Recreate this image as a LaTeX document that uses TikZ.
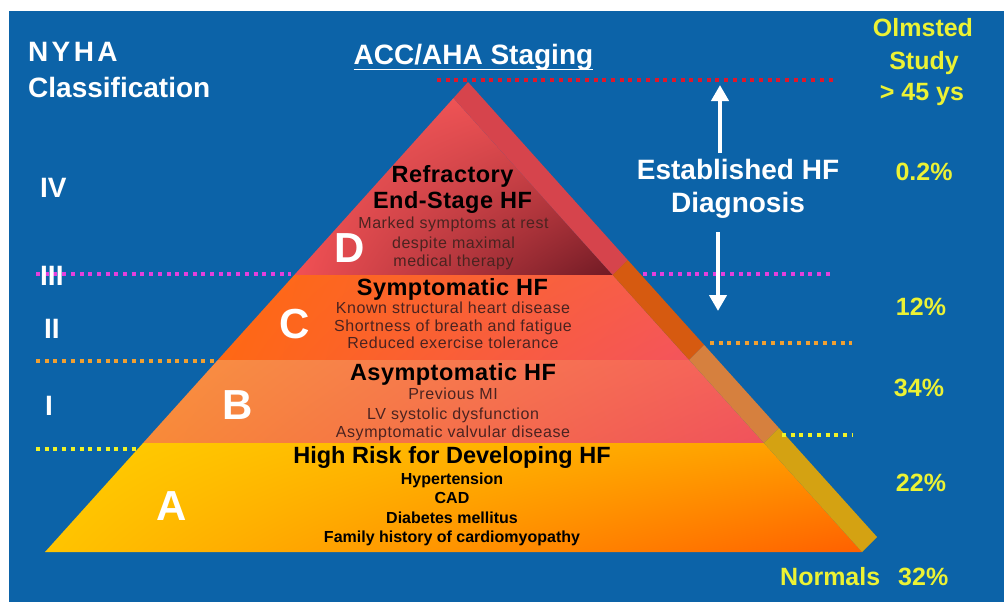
\documentclass[tikz,border=0pt]{standalone}
\usepackage{fontspec}
\setmainfont{Liberation Sans}
\newfontfamily\descfont[LetterSpace=3.5]{Liberation Sans}
\newfontfamily\ttlfont[LetterSpace=2]{Liberation Sans}
\newfontfamily\nyhafont[LetterSpace=12]{Liberation Sans}
\usetikzlibrary{arrows.meta,shadings}
\definecolor{bgblue}{RGB}{12,99,168}
\definecolor{ylw}{RGB}{236,242,52}
\definecolor{desccol}{RGB}{75,35,32}
\definecolor{dotred}{RGB}{222,24,44}
\definecolor{dotmag}{RGB}{228,64,220}
\definecolor{dotorg}{RGB}{240,160,50}
\definecolor{dotylw}{RGB}{240,242,40}
\definecolor{stripD}{RGB}{214,68,76}
\definecolor{stripC}{RGB}{214,90,16}
\definecolor{stripB}{RGB}{214,128,62}
\definecolor{stripA}{RGB}{212,162,18}
\definecolor{dUL}{RGB}{242,90,90}
\definecolor{dUR}{RGB}{234,76,80}
\definecolor{dLL}{RGB}{242,80,84}
\definecolor{dLR}{RGB}{112,26,36}
\definecolor{cUL}{RGB}{255,106,16}
\definecolor{cUR}{RGB}{246,92,80}
\definecolor{cLL}{RGB}{255,104,20}
\definecolor{cLR}{RGB}{244,84,92}
\definecolor{bUL}{RGB}{248,146,64}
\definecolor{bUR}{RGB}{245,96,92}
\definecolor{bLL}{RGB}{248,138,56}
\definecolor{bLR}{RGB}{240,82,92}
\definecolor{aUL}{RGB}{255,206,0}
\definecolor{aUR}{RGB}{255,156,0}
\definecolor{aLL}{RGB}{255,196,0}
\definecolor{aLR}{RGB}{255,96,0}
\tikzset{
  hdr/.style={font=\fontsize{28}{28}\selectfont\bfseries, text=white, inner sep=0pt},
  pct/.style={font=\fontsize{25}{25}\selectfont\bfseries, text=ylw, inner sep=0pt, anchor=base},
  ttl/.style={font=\ttlfont\fontsize{23.5}{23.5}\selectfont\bfseries, text=black, inner sep=0pt, anchor=base},
  ttlA/.style={font=\fontsize{23.5}{23.5}\selectfont\bfseries, text=black, inner sep=0pt, anchor=base},
  dsc/.style={font=\descfont\fontsize{16}{16}\selectfont, text=desccol, inner sep=0pt, anchor=base},
  dscb/.style={font=\fontsize{16}{16}\selectfont\bfseries, text=black, inner sep=0pt, anchor=base},
  stage/.style={font=\fontsize{42}{42}\selectfont\bfseries, text=white, inner sep=0pt, anchor=base west},
  dotline/.style={line width=4pt, dash pattern=on 4pt off 4.7pt},
  bigarrow/.style={draw=white, line width=4.5pt, -{Triangle[width=17pt,length=16pt]}}
}
\begin{document}
\begin{tikzpicture}[x=1pt,y=-1pt]
\useasboundingbox (0,0) rectangle (1004,602);
\fill[white] (0,0) rectangle (1004,602);
\fill[bgblue] (9,11) rectangle (1004,602);

% pyramid geometry
\coordinate (O) at (468,82);
\coordinate (F) at (453.5,98.1);
\coordinate (L1) at (294.3,275);
\coordinate (I1) at (612.7,275);
\coordinate (U1) at (627.7,260);
\coordinate (L2) at (217.8,360);
\coordinate (I2) at (689.2,360);
\coordinate (U2) at (704.2,345);
\coordinate (L3) at (143.1,443);
\coordinate (I3) at (763.9,443);
\coordinate (U3) at (778.9,428);
\coordinate (L4) at (45,552);
\coordinate (I4) at (862,552);
\coordinate (U4) at (877,537);

% faces
\shade[upper left=dUL, upper right=dUR, lower left=dLL, lower right=dLR]
  (F) -- (L1) -- (I1) -- cycle;
\shade[upper left=cUL, upper right=cUR, lower left=cLL, lower right=cLR]
  (L1) -- (L2) -- (I2) -- (I1) -- cycle;
\shade[upper left=bUL, upper right=bUR, lower left=bLL, lower right=bLR]
  (L2) -- (L3) -- (I3) -- (I2) -- cycle;
\shade[upper left=aUL, upper right=aUR, lower left=aLL, lower right=aLR]
  (L3) -- (L4) -- (I4) -- (I3) -- cycle;
% side strip
\fill[stripD] (O) -- (F) -- (I1) -- (U1) -- cycle;
\fill[stripC] (I1) -- (I2) -- (U2) -- (U1) -- cycle;
\fill[stripB] (I2) -- (I3) -- (U3) -- (U2) -- cycle;
\fill[stripA] (I3) -- (I4) -- (U4) -- (U3) -- cycle;

% dotted level lines
\coordinate (redL) at (437,80);  \coordinate (redR) at (833,80);
\coordinate (magL1) at (36,274); \coordinate (magL2) at (291,274);
\coordinate (magR1) at (643,274); \coordinate (magR2) at (833,274);
\coordinate (orgL1) at (36,361); \coordinate (orgL2) at (215,361);
\coordinate (orgR1) at (710,343); \coordinate (orgR2) at (852,343);
\coordinate (ylwL1) at (36,449); \coordinate (ylwL2) at (140,449);
\coordinate (ylwR1) at (782,435); \coordinate (ylwR2) at (852,435);
\draw[dotline, dotred] (redL) -- (redR);
\draw[dotline, dotmag] (magL1) -- (magL2);
\draw[dotline, dotmag] (magR1) -- (magR2);
\draw[dotline, dotorg] (orgL1) -- (orgL2);
\draw[dotline, dotorg] (orgR1) -- (orgR2);
\draw[dotline, dotylw] (ylwL1) -- (ylwL2);
\draw[dotline, dotylw] (ylwR1) -- (ylwR2);

% headers
\node[hdr, anchor=base west, font=\nyhafont\fontsize{28}{28}\selectfont\bfseries] (nyha) at (28,62) {NYHA};
\node[hdr, anchor=base west] (cls) at (28,97) {Classification};
\node[hdr, anchor=base] (acc) at (473.5,65) {ACC/AHA Staging};
\draw[white, line width=1.8pt] ([yshift=-4.5pt]acc.base west) -- ([yshift=-4.5pt]acc.base east);
\node[hdr, anchor=base] (est1) at (738,179) {Established HF};
\node[hdr, anchor=base] (est2) at (738,212) {Diagnosis};

% arrows
\coordinate (upS) at (720,153); \coordinate (upT) at (720,85);
\coordinate (dnS) at (718,232); \coordinate (dnT) at (718,311);
\draw[bigarrow] (upS) -- (upT);
\draw[bigarrow] (dnS) -- (dnT);

% NYHA classes
\node[hdr, anchor=base west] (r4) at (40,197) {IV};
\node[hdr, anchor=base west] (r3) at (40,285) {III};
\node[hdr, anchor=base west] (r2) at (44,338) {II};
\node[hdr, anchor=base west] (r1) at (45,415) {I};

% Olmsted
\node[pct] (olm1) at (923,37) {Olmsted};
\node[pct] (olm2) at (924,70) {Study};
\node[pct] (olm3) at (922,100) {> 45 ys};
\node[pct] (p4) at (924,180) {0.2\%};
\node[pct] (p3) at (921,315) {12\%};
\node[pct] (p2) at (919,396) {34\%};
\node[pct] (p1) at (921,491) {22\%};
\node[pct, anchor=base west] (pn) at (780,585) {Normals\hspace{18pt}32\%};

% stage letters
\node[stage] (sD) at (334,262) {D};
\node[stage] (sC) at (279,338) {C};
\node[stage] (sB) at (222,419) {B};
\node[stage] (sA) at (156,520) {A};

% stage D
\node[ttl] (d1) at (452.5,182) {Refractory};
\node[ttl] (d2) at (452.5,208) {End-Stage HF};
\node[dsc] (d3) at (453.5,228) {Marked symptoms at rest};
\node[dsc] (d4) at (453.5,248) {despite maximal};
\node[dsc] (d5) at (453.5,266) {medical therapy};
% stage C
\node[ttl] (c1) at (452.5,295) {Symptomatic HF};
\node[dsc] (c2) at (453,313) {Known structural heart disease};
\node[dsc] (c3) at (453,331) {Shortness of breath and fatigue};
\node[dsc] (c4) at (453,348) {Reduced exercise tolerance};
% stage B
\node[ttl] (b1) at (453,380) {Asymptomatic HF};
\node[dsc] (b2) at (453,399) {Previous MI};
\node[dsc] (b3) at (453,419) {LV systolic dysfunction};
\node[dsc] (b4) at (453,437) {Asymptomatic valvular disease};
% stage A
\node[ttlA] (a1) at (452,463) {High Risk for Developing HF};
\node[dscb] (a2) at (452,484) {Hypertension};
\node[dscb] (a3) at (452,503) {CAD};
\node[dscb] (a4) at (452,523) {Diabetes mellitus};
\node[dscb] (a5) at (452,542) {Family history of cardiomyopathy};
\end{tikzpicture}
\end{document}
